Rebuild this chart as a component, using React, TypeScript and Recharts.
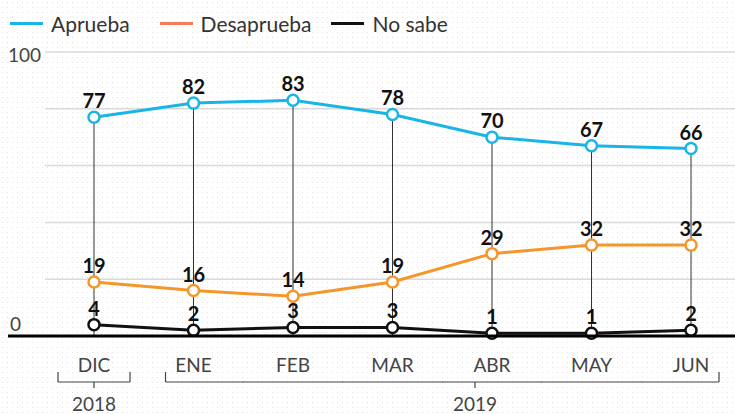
import { LineChart, Line, XAxis, YAxis, CartesianGrid, LabelList, ReferenceLine } from 'recharts';

const months = ['DIC', 'ENE', 'FEB', 'MAR', 'ABR', 'MAY', 'JUN'];
const aprueba = [77, 82, 83, 78, 70, 67, 66];
const desaprueba = [19, 16, 14, 19, 29, 32, 32];
const noSabe = [4, 2, 3, 3, 1, 1, 2];
const yTicks = [0, 20, 40, 60, 80, 100];
const yearOf = ['2018', '2019', '2019', '2019', '2019', '2019', '2019'];

const SERIES = [
  { key: 'aprueba', name: 'Aprueba', color: '#19b5e6' },
  { key: 'desaprueba', name: 'Desaprueba', color: '#f5962a' },
  { key: 'noSabe', name: 'No sabe', color: '#111111' },
];
const LEGEND_COLORS = ['#19b5e6', '#f57d55', '#111111'];

const data = months.map((m, i) => ({
  month: m,
  aprueba: aprueba[i],
  desaprueba: desaprueba[i],
  noSabe: noSabe[i],
}));

const FONT = 'Lato, "Noto Sans", sans-serif';

function YTick(props: any) {
  const { y, payload } = props;
  if (payload.value === 0) {
    return (
      <g>
        <line x1={8} x2={735} y1={y} y2={y} stroke="#000" strokeWidth={3} />
        <text x={10} y={y - 5} fontSize={19} fill="#444" fontFamily={FONT}>0</text>
      </g>
    );
  }
  if (payload.value === 100) {
    return (
      <text x={8} y={y + 10} fontSize={19} fill="#444" fontFamily={FONT}>100</text>
    );
  }
  return <g />;
}

function XTick(props: any) {
  const { x, y, payload, index } = props;
  const year = yearOf[index];
  const first = index === 0 || yearOf[index - 1] !== year;
  const last = index === months.length - 1 || yearOf[index + 1] !== year;
  const by = y + 38;
  const x1 = first ? x - (index === 0 ? 36 : 28) : x - 50;
  const x2 = last ? x + (index === 0 ? 36 : 28) : x + 50;
  // year label sits at the tick nearest the bracket centre
  const count = yearOf.filter((v) => v === year).length;
  const firstIdx = yearOf.indexOf(year);
  const centerIdx = firstIdx + Math.floor(count / 2);
  const cx = count === 1 ? x : x - 17;
  return (
    <g>
      <text x={x} y={y + 28} textAnchor="middle" fontSize={19} fill="#444" fontFamily={FONT}>
        {payload.value}
      </text>
      <line x1={x1} x2={x2} y1={by} y2={by} stroke="#444" strokeWidth={1.2} />
      {first && <line x1={x1} x2={x1} y1={by - 10} y2={by} stroke="#444" strokeWidth={1.2} />}
      {last && <line x1={x2} x2={x2} y1={by - 10} y2={by} stroke="#444" strokeWidth={1.2} />}
      {index === centerIdx && (
        <g>
          <line x1={cx} x2={cx} y1={by} y2={by + 6} stroke="#444" strokeWidth={1.2} />
          <text x={cx} y={by + 29} textAnchor="middle" fontSize={19} fill="#444" fontFamily={FONT}>
            {year}
          </text>
        </g>
      )}
    </g>
  );
}

function LegendBox() {
  return (
    <div
      style={{
        position: 'absolute',
        top: 11,
        left: 10,
        display: 'flex',
        alignItems: 'center',
        fontFamily: FONT,
        fontSize: 21,
        color: '#333',
      }}
    >
      {SERIES.map((s, i) => (
        <div key={s.key} style={{ display: 'flex', alignItems: 'center', marginRight: i === 0 ? 30 : 20 }}>
          <span style={{ display: 'inline-block', width: 33, height: 3, background: LEGEND_COLORS[i], marginRight: 8 }} />
          <span>{s.name}</span>
        </div>
      ))}
    </div>
  );
}

export default function App() {
  return (
    <div
      style={{
        position: 'relative',
        width: 735,
        height: 414,
        backgroundColor: '#fff',
        backgroundImage: 'radial-gradient(#e4e4e4 0.9px, transparent 1px)',
        backgroundSize: '5px 5px',
      }}
    >
      <style>{`body{margin:0}`}</style>
      <LegendBox />
      <LineChart width={735} height={414} data={data} margin={{ top: 52, right: 0, left: 0, bottom: 0 }}>
        <CartesianGrid vertical={false} stroke="#dadada" strokeWidth={1.5} />
        <YAxis
          domain={[0, 100]}
          ticks={yTicks}
          width={45}
          axisLine={false}
          tickLine={false}
          tick={YTick}
        />
        <XAxis
          dataKey="month"
          height={78}
          axisLine={false}
          tickLine={false}
          padding={{ left: 49, right: 44 }}
          interval={0}
          tick={XTick}
        />
        {data.map((d) => (
          <ReferenceLine
            key={d.month}
            segment={[{ x: d.month, y: 0 }, { x: d.month, y: d.aprueba }]}
            stroke="#333"
            strokeWidth={1}
          />
        ))}
        {SERIES.map((s) => (
          <Line
            key={s.key}
            dataKey={s.key}
            name={s.name}
            stroke={s.color}
            strokeWidth={3}
            dot={{ r: 5.5, fill: '#fff', stroke: s.color, strokeWidth: 2.5 }}
            isAnimationActive={false}
          >
            <LabelList
              dataKey={s.key}
              position="top"
              offset={9}
              fill="#111"
              fontSize={20}
              fontWeight={700}
              fontFamily={FONT}
            />
          </Line>
        ))}
      </LineChart>
    </div>
  );
}
